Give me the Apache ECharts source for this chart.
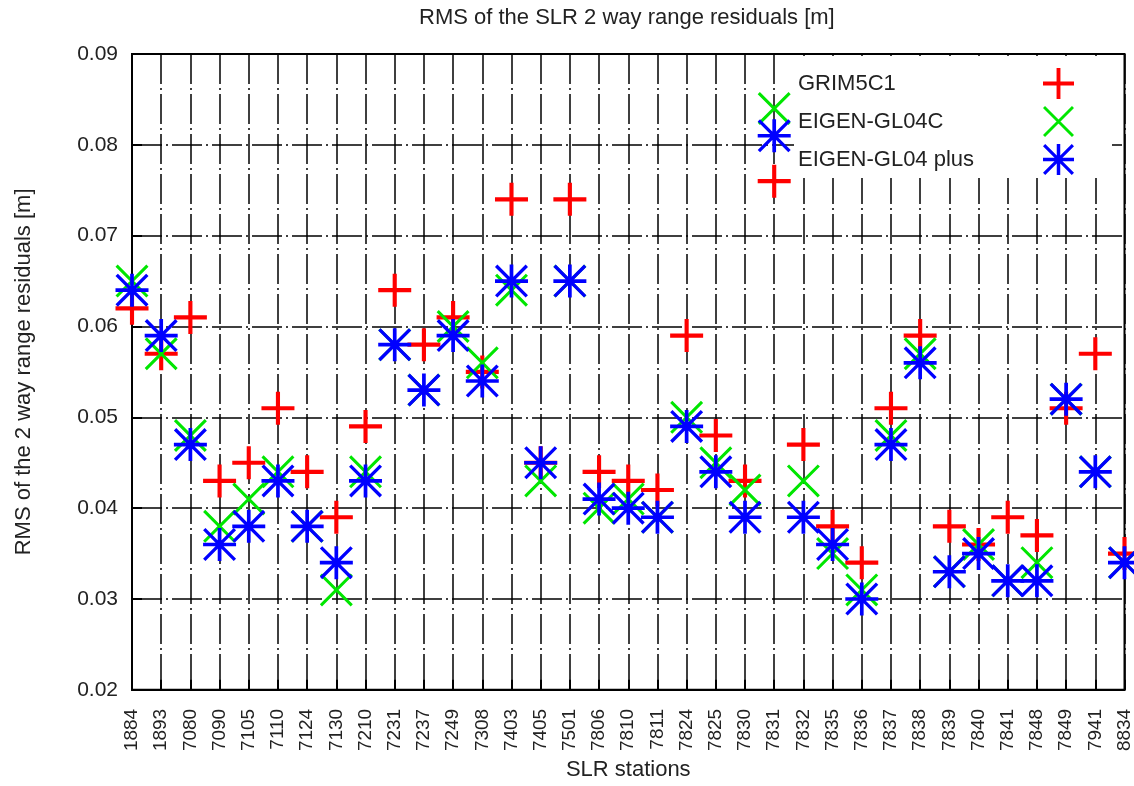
<!DOCTYPE html>
<html>
<head>
<meta charset="utf-8">
<script src="https://cdn.jsdelivr.net/npm/echarts@6/dist/echarts.min.js"></script>
<style>
    html, body { margin: 0; padding: 0; background: #fff; }
    #main { width: 1134px; height: 786px; }
</style>
</head>
<body>
<div id="main"></div>
<script>
    // SLR stations on the x axis
    var stations = ['1884', '1893', '7080', '7090', '7105', '7110', '7124', '7130', '7210', '7231',
        '7237', '7249', '7308', '7403', '7405', '7501', '7806', '7810', '7811', '7824',
        '7825', '7830', '7831', '7832', '7835', '7836', '7837', '7838', '7839', '7840',
        '7841', '7848', '7849', '7941', '8834'];

    // RMS values [m]
    var grim5c1 = [0.062, 0.057, 0.061, 0.043, 0.045, 0.051, 0.044, 0.039, 0.049, 0.064,
        0.058, 0.061, 0.055, 0.074, 0.045, 0.074, 0.044, 0.043, 0.042, 0.059,
        0.048, 0.043, 0.076, 0.047, 0.038, 0.034, 0.051, 0.059, 0.038, 0.036,
        0.039, 0.037, 0.051, 0.057, 0.035];
    var eigenGl04c = [0.065, 0.057, 0.048, 0.038, 0.041, 0.044, 0.038, 0.031, 0.044, 0.058,
        0.053, 0.060, 0.056, 0.064, 0.043, 0.065, 0.040, 0.041, 0.039, 0.050,
        0.045, 0.042, 0.084, 0.043, 0.035, 0.031, 0.048, 0.057, 0.033, 0.036,
        0.032, 0.034, 0.052, 0.044, 0.034];
    var eigenGl04plus = [0.064, 0.059, 0.047, 0.036, 0.038, 0.043, 0.038, 0.034, 0.043, 0.058,
        0.053, 0.059, 0.054, 0.065, 0.045, 0.065, 0.041, 0.040, 0.039, 0.049,
        0.044, 0.039, 0.081, 0.039, 0.036, 0.030, 0.047, 0.056, 0.033, 0.035,
        0.032, 0.032, 0.052, 0.044, 0.034];

    var seriesNames = ['GRIM5C1', 'EIGEN-GL04C', 'EIGEN-GL04 plus'];

    // y axis range and step
    var yMin = 0.02, yMax = 0.09, yStep = 0.01;

    // gnuplot-like point shapes
    var plusPath = 'path://M0,14H32V18H0Z M14,0H18V32H14Z';
    var crossPath = 'path://M0,2.1L2.1,0L32,29.9L29.9,32Z M29.9,0L32,2.1L2.1,32L0,29.9Z';
    var starPath = 'path://M0,14.2H32V17.8H0Z M14.2,0H17.8V32H14.2Z M0,2.3L2.3,0L32,29.7L29.7,32Z M29.7,0L32,2.3L2.3,32L0,29.7Z';

    var font = 'Liberation Sans, Arial, Helvetica, sans-serif';
    var txt = '#222';
    var gridDash = [30, 4, 2, 4];

    var chart = echarts.init(document.getElementById('main'));

    var option = {
        animation: false,
        title: {
            text: 'RMS of the SLR 2 way range residuals [m]',
            left: 414,
            top: 2,
            textStyle: { fontFamily: font, fontSize: 22, fontWeight: 'normal', color: txt }
        },
        legend: {
            orient: 'vertical',
            left: 794,
            top: 56,
            align: 'right',
            itemWidth: 31,
            itemHeight: 31,
            itemGap: 7,
            padding: [12, 38, 3, 4],
            backgroundColor: '#fff',
            selectedMode: false,
            data: seriesNames,
            formatter: '{a|{name}}',
            textStyle: {
                fontFamily: font, fontSize: 22, color: txt,
                rich: { a: { width: 240, align: 'left', fontFamily: font, fontSize: 22, color: txt } }
            }
        },
        grid: {
            left: 132,
            right: 7,
            top: 54,
            bottom: 90,
            show: true,
            borderColor: '#000',
            borderWidth: 2,
            backgroundColor: 'transparent'
        },
        xAxis: {
            type: 'category',
            data: stations,
            boundaryGap: false,
            name: 'SLR stations',
            nameLocation: 'middle',
            nameGap: 66,
            nameTextStyle: { fontFamily: font, fontSize: 22, color: txt },
            axisLine: { lineStyle: { color: '#000', width: 2 } },
            axisTick: { show: true, inside: true, length: 10, interval: 0, lineStyle: { color: '#000', width: 2 } },
            axisLabel: { rotate: 90, interval: 0, margin: 19, fontFamily: font, fontSize: 19, color: txt },
            splitLine: { show: true, interval: 0, lineStyle: { color: '#000', width: 1.5, type: gridDash } }
        },
        yAxis: {
            type: 'value',
            min: yMin,
            max: yMax,
            interval: yStep,
            name: 'RMS of the 2 way range residuals [m]',
            nameLocation: 'middle',
            nameGap: 97,
            nameTextStyle: { fontFamily: font, fontSize: 22, color: txt },
            axisLine: { show: true, lineStyle: { color: '#000', width: 2 } },
            axisTick: { show: true, inside: true, length: 10, lineStyle: { color: '#000', width: 2 } },
            axisLabel: {
                margin: 14, fontFamily: font, fontSize: 21, color: txt,
                formatter: function (v) { return v.toFixed(2); }
            },
            splitLine: { show: true, lineStyle: { color: '#000', width: 1.5, type: gridDash } }
        },
        series: [
            {
                name: seriesNames[0],
                type: 'scatter',
                symbol: plusPath,
                symbolSize: 33,
                itemStyle: { color: '#ff0000', opacity: 1 },
                data: grim5c1
            },
            {
                name: seriesNames[1],
                type: 'scatter',
                symbol: crossPath,
                symbolSize: 33,
                itemStyle: { color: '#00e600', opacity: 1 },
                data: eigenGl04c
            },
            {
                name: seriesNames[2],
                type: 'scatter',
                symbol: starPath,
                symbolSize: 33,
                itemStyle: { color: '#0000ff', opacity: 1 },
                data: eigenGl04plus
            }
        ]
    };

    chart.setOption(option);
</script>
</body>
</html>
